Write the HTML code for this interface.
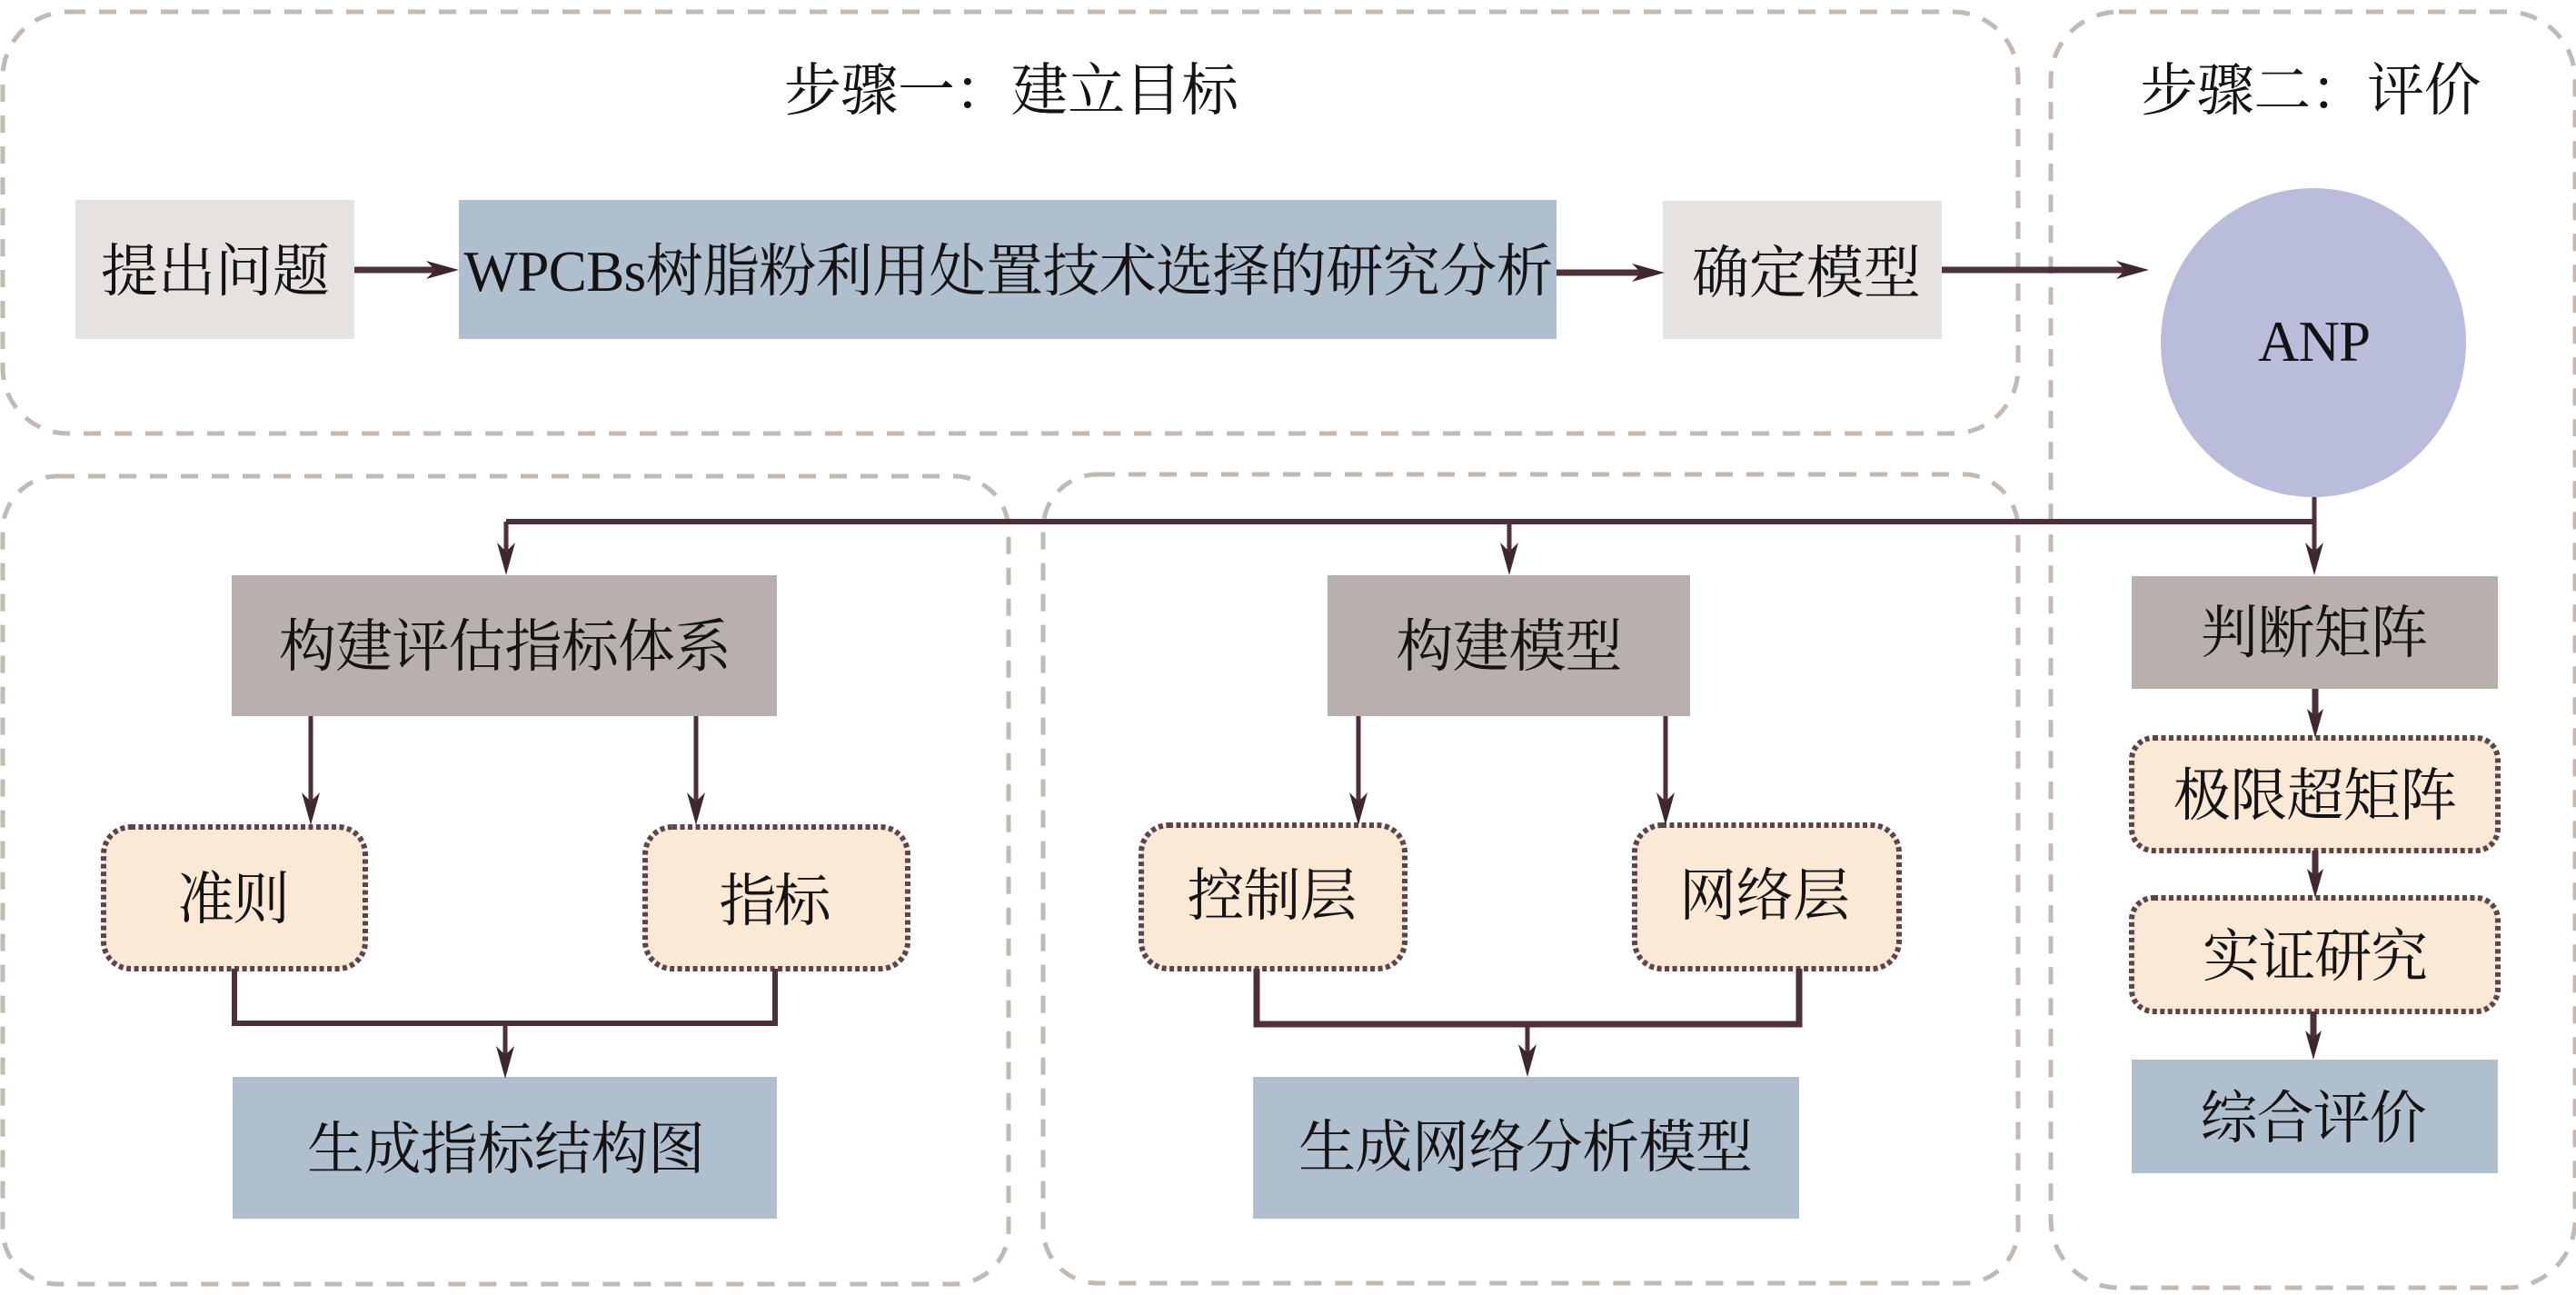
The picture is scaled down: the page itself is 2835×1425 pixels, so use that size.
<!DOCTYPE html>
<html lang="zh">
<head>
<meta charset="utf-8">
<title>ANP</title>
<style>
html,body{margin:0;padding:0;background:#fff;width:2835px;height:1425px;overflow:hidden}
svg{display:block}
text{font-family:"Liberation Serif","Noto Serif CJK SC",serif;font-size:63px;fill:#141212;text-anchor:middle}
.pn{fill:none;stroke:#c2b9b3;stroke-width:5;stroke-dasharray:19 15}
.dt{fill:#fbe8d5;stroke:#5f4347;stroke-width:6;stroke-dasharray:5 3.5}
.ln{fill:none;stroke:#4d3038;stroke-width:5}
.hv{fill:none;stroke:#4d3038;stroke-width:7}
.ah{fill:#3f2730}
</style>
</head>
<body>
<svg width="2835" height="1425" viewBox="0 0 2835 1425" xmlns="http://www.w3.org/2000/svg">
<rect width="2835" height="1425" fill="#fff"/>

<!-- panels -->
<rect class="pn" x="3" y="13" width="2218" height="464" rx="72" ry="72"/>
<rect class="pn" x="2257" y="13" width="577" height="1404" rx="75" ry="75"/>
<rect class="pn" x="3" y="524" width="1107" height="889" rx="60" ry="60"/>
<rect class="pn" x="1148" y="522" width="1073" height="890" rx="60" ry="60"/>

<!-- boxes -->
<rect x="83" y="220" width="307" height="153" fill="#e6e2df"/>
<rect x="505" y="220" width="1208" height="153" fill="#afbfcd"/>
<rect x="1830" y="221" width="307" height="152" fill="#e6e2df"/>
<ellipse cx="2546" cy="377" rx="168" ry="170" fill="#b9bcdb"/>

<rect x="255" y="633" width="600" height="155" fill="#b7b0ac"/>
<rect x="1461" y="633" width="399" height="155" fill="#b7b0ac"/>
<rect x="2346" y="634" width="403" height="124" fill="#b7b0ac"/>

<rect class="dt" x="114" y="910" width="288" height="156" rx="30" ry="30"/>
<rect class="dt" x="710" y="910" width="289" height="156" rx="30" ry="30"/>
<rect class="dt" x="1256" y="908" width="290" height="158" rx="30" ry="30"/>
<rect class="dt" x="1799" y="908" width="291" height="158" rx="30" ry="30"/>
<rect class="dt" x="2346" y="812" width="403" height="124" rx="24" ry="24"/>
<rect class="dt" x="2346" y="988" width="403" height="125" rx="24" ry="24"/>

<rect x="256" y="1185" width="599" height="156" fill="#afbfcd"/>
<rect x="1379" y="1185" width="601" height="156" fill="#afbfcd"/>
<rect x="2346" y="1166" width="403" height="125" fill="#afbfcd"/>

<!-- connectors -->
<path class="hv" d="M390 297H485"/>
<polygon class="ah" points="505,297 469,287 479,297 469,307"/>
<path class="hv" d="M1713 300H1812"/>
<polygon class="ah" points="1832,300 1796,290 1806,300 1796,310"/>
<path class="hv" d="M2137 297H2345"/>
<polygon class="ah" points="2365,297 2329,287 2339,297 2329,307"/>

<path class="ln" style="stroke-width:6" d="M557 574H2547"/>
<path class="ln" d="M2547 547V615"/>
<polygon class="ah" points="2547,633 2537,597 2547,607 2557,597"/>
<path class="ln" d="M557 574V615"/>
<polygon class="ah" points="557,633 547,597 557,607 567,597"/>
<path class="ln" d="M1661 574V615"/>
<polygon class="ah" points="1661,633 1651,597 1661,607 1671,597"/>

<path class="ln" d="M342 788V890"/>
<polygon class="ah" points="342,908 332,872 342,882 352,872"/>
<path class="ln" d="M766 788V890"/>
<polygon class="ah" points="766,908 756,872 766,882 776,872"/>
<path class="ln" d="M1495 788V890"/>
<polygon class="ah" points="1495,908 1485,872 1495,882 1505,872"/>
<path class="ln" d="M1833 788V890"/>
<polygon class="ah" points="1833,908 1823,872 1833,882 1843,872"/>

<path class="ln" style="stroke-width:6" d="M258 1066V1126H853V1066"/>
<path class="ln" d="M556 1126V1170"/>
<polygon class="ah" points="556,1187 546,1151 556,1161 566,1151"/>
<path class="ln" style="stroke-width:7" d="M1383 1066V1127H1980V1066"/>
<path class="ln" d="M1681 1127V1168"/>
<polygon class="ah" points="1681,1185 1671,1149 1681,1159 1691,1149"/>

<path class="hv" d="M2548 758V795"/>
<polygon class="ah" points="2548,812 2539,780 2548,788 2557,780"/>
<path class="hv" d="M2548 936V971"/>
<polygon class="ah" points="2548,988 2539,956 2548,964 2557,956"/>
<path class="hv" d="M2546 1113V1149"/>
<polygon class="ah" points="2546,1166 2537,1134 2546,1142 2555,1134"/>

<!-- labels -->
<text x="1113" y="121" textLength="500" lengthAdjust="spacing">步骤一：建立目标</text>
<text x="2543" y="121" textLength="375" lengthAdjust="spacing">步骤二：评价</text>
<text x="237" y="320" textLength="252" lengthAdjust="spacing">提出问题</text>
<text x="1110" y="320" textLength="1199" lengthAdjust="spacing">WPCBs树脂粉利用处置技术选择的研究分析</text>
<text x="1988" y="322" textLength="252" lengthAdjust="spacing">确定模型</text>
<text x="2547" y="397" textLength="124" lengthAdjust="spacing">ANP</text>

<text x="556" y="733" textLength="498" lengthAdjust="spacing">构建评估指标体系</text>
<text x="1661" y="733" textLength="249" lengthAdjust="spacing">构建模型</text>
<text x="2547" y="718" textLength="250" lengthAdjust="spacing">判断矩阵</text>

<text x="257" y="1011" textLength="124" lengthAdjust="spacing">准则</text>
<text x="853" y="1013" textLength="123" lengthAdjust="spacing">指标</text>
<text x="1400" y="1007" textLength="187" lengthAdjust="spacing">控制层</text>
<text x="1942" y="1007" textLength="188" lengthAdjust="spacing">网络层</text>
<text x="2548" y="897" textLength="312" lengthAdjust="spacing">极限超矩阵</text>
<text x="2548" y="1074" textLength="248" lengthAdjust="spacing">实证研究</text>
<text x="2546" y="1252" textLength="249" lengthAdjust="spacing">综合评价</text>

<text x="557" y="1286" textLength="438" lengthAdjust="spacing">生成指标结构图</text>
<text x="1679" y="1284" textLength="500" lengthAdjust="spacing">生成网络分析模型</text>
</svg>
</body>
</html>
